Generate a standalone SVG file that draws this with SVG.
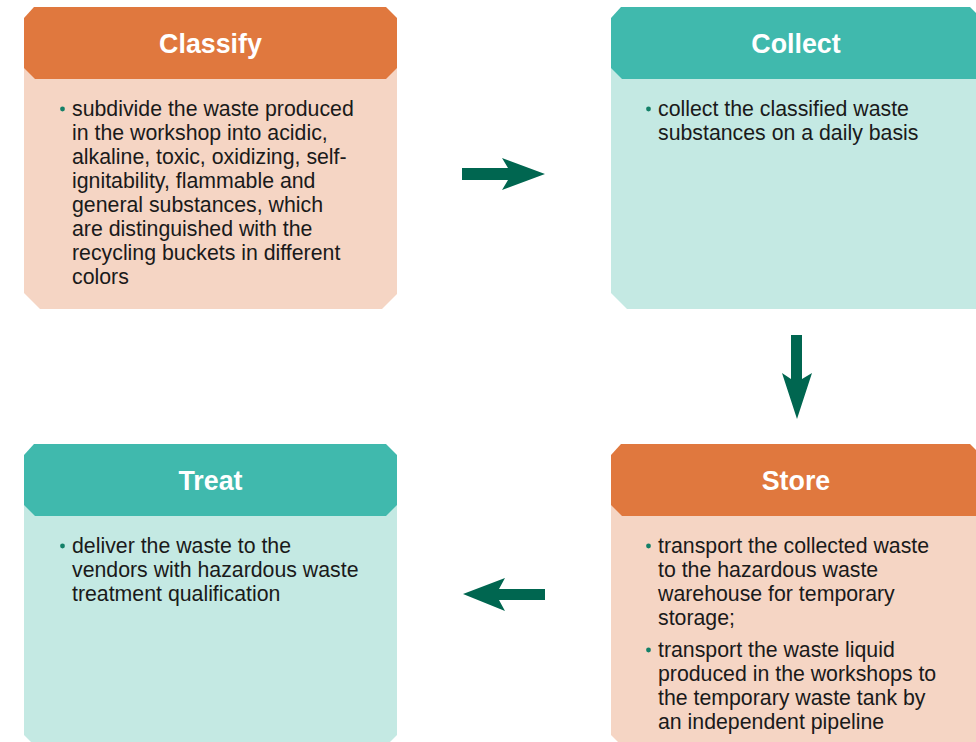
<svg xmlns="http://www.w3.org/2000/svg" width="976" height="742" viewBox="0 0 976 742">
<style>
.t{font-family:"Liberation Sans",Arial,sans-serif;font-size:21.3px;fill:#1a1a1a}
.h{font-family:"Liberation Sans",Arial,sans-serif;font-size:26.8px;font-weight:bold;fill:#ffffff;text-anchor:middle}
.ob{fill:#F5D5C4}.oh{fill:#E0783E}.tb{fill:#C4E9E3}.th{fill:#40B9AD}
.d{fill:#138068}
.a{fill:#006650}
</style>
<rect width="976" height="742" fill="#ffffff"/>
<g id="classify">
<polygon class="ob" points="24,60 397,60 397,294 382,309 40,309 24,293"/>
<polygon class="oh" points="34,7 386,7 397,18 397,68 386,79 35,79 24,68 24,18"/>
<text class="h" x="210.5" y="53">Classify</text>
<circle class="d" cx="62.5" cy="109" r="2.4"/>
<text class="t" x="72"><tspan x="72" y="116">subdivide the waste produced</tspan><tspan x="72" y="140">in the workshop into acidic,</tspan><tspan x="72" y="164">alkaline, toxic, oxidizing, self-</tspan><tspan x="72" y="188">ignitability, flammable and</tspan><tspan x="72" y="212">general substances, which</tspan><tspan x="72" y="236">are distinguished with the</tspan><tspan x="72" y="260">recycling buckets in different</tspan><tspan x="72" y="284">colors</tspan></text>
</g>
<g id="collect">
<polygon class="tb" points="611,60 976,60 976,309 627,309 611,293"/>
<polygon class="th" points="621,7 970,7 976,13 976,79 622,79 611,68 611,18"/>
<text class="h" x="796" y="53">Collect</text>
<circle class="d" cx="648.5" cy="109" r="2.4"/>
<text class="t"><tspan x="658" y="116">collect the classified waste</tspan><tspan x="658" y="140">substances on a daily basis</tspan></text>
</g>
<g id="store">
<polygon class="ob" points="611,497 976,497 976,742 618,742 611,735"/>
<polygon class="oh" points="621,444 970,444 976,450 976,516 622,516 611,505 611,455"/>
<text class="h" x="796" y="490">Store</text>
<circle class="d" cx="648.5" cy="546" r="2.4"/>
<text class="t"><tspan x="658" y="553">transport the collected waste</tspan><tspan x="658" y="577">to the hazardous waste</tspan><tspan x="658" y="601">warehouse for temporary</tspan><tspan x="658" y="625">storage;</tspan></text>
<circle class="d" cx="648.5" cy="650" r="2.4"/>
<text class="t"><tspan x="658" y="657">transport the waste liquid</tspan><tspan x="658" y="681">produced in the workshops to</tspan><tspan x="658" y="705">the temporary waste tank by</tspan><tspan x="658" y="729">an independent pipeline</tspan></text>
</g>
<g id="treat">
<polygon class="tb" points="24,497 397,497 397,735 390,742 31,742 24,735"/>
<polygon class="th" points="34,444 386,444 397,455 397,505 386,516 35,516 24,505 24,455"/>
<text class="h" x="210.5" y="490">Treat</text>
<circle class="d" cx="62.5" cy="546" r="2.4"/>
<text class="t"><tspan x="72" y="553">deliver the waste to the</tspan><tspan x="72" y="577">vendors with hazardous waste</tspan><tspan x="72" y="601">treatment qualification</tspan></text>
</g>
<g id="connectors">
<polygon class="a" points="462,168 508,168 502,158 545,174 502,190 508,180 462,180"/>
<polygon class="a" points="791,335 802,335 802,379 812,373 797,419 782,373 791,379"/>
<polygon class="a" points="545,589 499,589 505,578 463,594 505,611 499,600 545,600"/>
</g>
</svg>
